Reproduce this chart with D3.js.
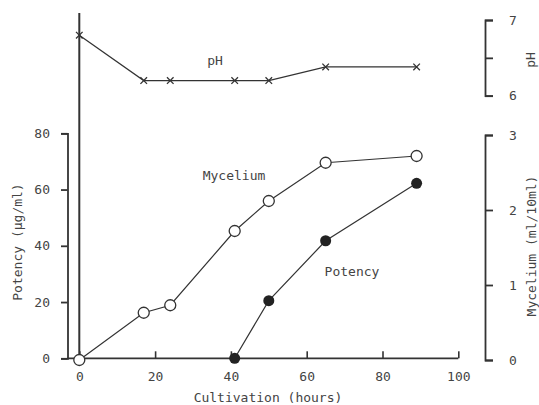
<!DOCTYPE html>
<html>
<head>
<meta charset="utf-8">
<script src="https://cdn.jsdelivr.net/npm/d3@7"></script>
<style>
  body { margin: 0; background: #fff; }
  text { font-family: "DejaVu Sans Mono", monospace; font-size: 13px; fill: #444; }
</style>
</head>
<body>
<div id="chart"></div>
<script>
// Data
const hours = [0, 17, 24, 41, 50, 65, 89];
const pH = [6.80, 6.20, 6.20, 6.20, 6.20, 6.38, 6.38];
const mycelium = [0, 0.63, 0.73, 1.72, 2.12, 2.63, 2.72];
const potencyHours = [41, 50, 65, 89];
const potency = [0, 20.5, 41.8, 62.2];

const xTicks = [0, 20, 40, 60, 80, 100];
const potencyTicks = [0, 20, 40, 60, 80];
const myceliumTicks = [0, 1, 2, 3];
const pHTicks = [6, 6.5, 7];

const width = 539, height = 405;
const ink = "#333";

const svg = d3.select("#chart")
  .append("svg")
    .attr("width", width)
    .attr("height", height);

// Scales
const x = d3.scaleLinear().domain([0, 100]).range([79.3, 458.3]);
const yPot = d3.scaleLinear().domain([0, 80]).range([358.3, 133.3]);
const yMyc = d3.scaleLinear().domain([0, 3]).range([360, 135]);
const yPH = d3.scaleLinear().domain([6, 7]).range([95.7, 20]);

// Bottom axis: ticks point inward (up)
const xAxis = svg.append("g")
  .attr("transform", `translate(0,${yPot(0)})`)
  .call(d3.axisBottom(x).tickValues(xTicks).tickSizeInner(-7).tickSizeOuter(0).tickPadding(13));
xAxis.select(".domain").remove();
xAxis.selectAll(".tick line").attr("stroke", ink).attr("stroke-width", 1.6);
xAxis.selectAll(".tick text").attr("dy", "0.71em").attr("y", 13);

svg.append("line")
  .attr("x1", 67.5).attr("x2", x(100))
  .attr("y1", yPot(0)).attr("y2", yPot(0))
  .attr("stroke", ink).attr("stroke-width", 1.8);

// Left potency axis
const yAxisL = svg.append("g")
  .attr("transform", "translate(67.5,0)")
  .call(d3.axisLeft(yPot).tickValues(potencyTicks).tickSize(6.5).tickPadding(11));
yAxisL.select(".domain").attr("stroke", ink).attr("stroke-width", 1.8);
yAxisL.selectAll(".tick line").attr("stroke", ink).attr("stroke-width", 1.8);

// Right mycelium axis
const yAxisM = svg.append("g")
  .attr("transform", "translate(485,0)")
  .call(d3.axisRight(yMyc).tickValues(myceliumTicks).tickSize(8).tickPadding(16)
    .tickFormat(d3.format("d")));
yAxisM.select(".domain").attr("stroke", ink).attr("stroke-width", 1.8);
yAxisM.selectAll(".tick line").attr("stroke", ink).attr("stroke-width", 1.8);

// Right pH axis
const yAxisP = svg.append("g")
  .attr("transform", "translate(485,0)")
  .call(d3.axisRight(yPH).tickValues(pHTicks).tickSize(8).tickPadding(16)
    .tickFormat(d => d === 6.5 ? "" : d3.format("d")(d)));
yAxisP.select(".domain").attr("stroke", ink).attr("stroke-width", 1.8);
yAxisP.selectAll(".tick line").attr("stroke", ink).attr("stroke-width", 1.8);

svg.selectAll(".tick text")
  .style("font-family", "'DejaVu Sans Mono', monospace")
  .style("font-size", "13px")
  .attr("fill", "#444");

// Full-height line at x = 0
svg.append("line")
  .attr("x1", x(0)).attr("x2", x(0))
  .attr("y1", 13).attr("y2", yPot(0))
  .attr("stroke", ink).attr("stroke-width", 2);

// Line generators
const pHData = hours.map((h, i) => ({h, v: pH[i]}));
const mycData = hours.map((h, i) => ({h, v: mycelium[i]}));
const potData = potencyHours.map((h, i) => ({h, v: potency[i]}));

svg.append("path")
  .datum(pHData)
  .attr("fill", "none").attr("stroke", ink).attr("stroke-width", 1.2)
  .attr("d", d3.line().x(d => x(d.h)).y(d => yPH(d.v)));

svg.append("path")
  .datum(mycData)
  .attr("fill", "none").attr("stroke", ink).attr("stroke-width", 1.2)
  .attr("d", d3.line().x(d => x(d.h)).y(d => yMyc(d.v)));

svg.append("path")
  .datum(potData)
  .attr("fill", "none").attr("stroke", ink).attr("stroke-width", 1.2)
  .attr("d", d3.line().x(d => x(d.h)).y(d => yPot(d.v)));

// pH markers (x)
const cross = d3.symbol().type(d3.symbolX).size(30);
svg.selectAll(".ph-mark")
  .data(pHData)
  .join("path")
    .attr("class", "ph-mark")
    .attr("transform", d => `translate(${x(d.h)},${yPH(d.v)})`)
    .attr("d", cross)
    .attr("fill", "none")
    .attr("stroke", ink)
    .attr("stroke-width", 1.3);

// Mycelium markers (open circles)
svg.selectAll(".myc-mark")
  .data(mycData)
  .join("circle")
    .attr("class", "myc-mark")
    .attr("cx", d => x(d.h))
    .attr("cy", d => yMyc(d.v))
    .attr("r", 5.5)
    .attr("fill", "#fff")
    .attr("stroke", ink)
    .attr("stroke-width", 1.3);

// Potency markers (filled circles)
svg.selectAll(".pot-mark")
  .data(potData)
  .join("circle")
    .attr("class", "pot-mark")
    .attr("cx", d => x(d.h))
    .attr("cy", d => yPot(d.v))
    .attr("r", 5.5)
    .attr("fill", "#222");

// Series labels
svg.append("text").attr("x", 215).attr("y", 60).attr("text-anchor", "middle")
  .attr("dominant-baseline", "central").text("pH");
svg.append("text").attr("x", 234).attr("y", 175).attr("text-anchor", "middle")
  .attr("dominant-baseline", "central").text("Mycelium");
svg.append("text").attr("x", 352).attr("y", 271).attr("text-anchor", "middle")
  .attr("dominant-baseline", "central").text("Potency");

// Axis titles
svg.append("text").attr("x", 268).attr("y", 397).attr("text-anchor", "middle")
  .attr("dominant-baseline", "central").text("Cultivation (hours)");
svg.append("text").attr("transform", "translate(17,242) rotate(-90)")
  .attr("text-anchor", "middle").attr("dominant-baseline", "central")
  .text("Potency (\u03bcg/ml)");
svg.append("text").attr("transform", "translate(531,246) rotate(-90)")
  .attr("text-anchor", "middle").attr("dominant-baseline", "central")
  .text("Mycelium (ml/10ml)");
svg.append("text").attr("transform", "translate(530,60) rotate(-90)")
  .attr("text-anchor", "middle").attr("dominant-baseline", "central")
  .text("pH");
</script>
</body>
</html>
